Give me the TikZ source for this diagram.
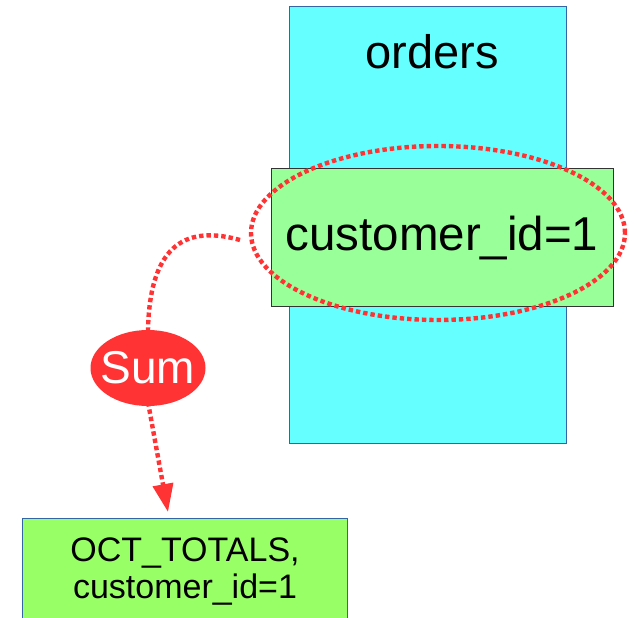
\documentclass[tikz,border=0pt]{standalone}
\usepackage{fontspec}
\setmainfont{Liberation Sans}
\usetikzlibrary{arrows.meta,shapes.geometric}
\definecolor{cyanfill}{HTML}{66FFFF}
\definecolor{greenfill}{HTML}{99FF99}
\definecolor{limefill}{HTML}{99FF66}
\definecolor{bordblue}{HTML}{3465A4}
\definecolor{redx}{HTML}{FF3333}
\tikzset{
  dotline/.style={draw=redx, line width=4.4pt, dash pattern=on 4.4pt off 3pt},
  tablebox/.style={draw=bordblue, line width=0.8pt, fill=cyanfill},
}
\begin{document}
\begin{tikzpicture}[x=1pt,y=-1pt]
\useasboundingbox (0,0) rectangle (638,618);
\fill[white] (0,0) rectangle (638,618);
% orders table
\node[tablebox, minimum width=277pt, minimum height=437pt, anchor=north west, inner sep=0pt] (orders) at (289,6) {};
\node[font=\fontsize{47}{50}\selectfont] (orderslbl) at (432,52) {orders};
% customer_id row
\node[draw=black!80, line width=0.8pt, fill=greenfill, minimum width=342pt, minimum height=138pt, anchor=north west, inner sep=0pt] (row) at (271,168) {};
\node[font=\fontsize{47.5}{50}\selectfont] (rowlbl) at (442,238) {customer\_id=1};
% dotted selection ellipse
\node[ellipse, dotline, minimum width=374pt, minimum height=174pt, inner sep=0pt] (sel) at (438,233) {};
% Sum
\node[ellipse, fill=redx, minimum width=115pt, minimum height=76pt, inner sep=0pt] (sum) at (148,368) {};
\node[text=white, font=\fontsize{46}{50}\selectfont] (sumlbl) at (sum.center) {Sum};
% connector from ellipse to Sum
\coordinate (cstart) at (240,240);
\draw[dotline] (cstart) .. controls (190,226) and (150,240) .. (sum.north);
% arrow to result
\coordinate (tip) at (168,512);
\draw[dotline, -{Triangle[width=20pt,length=28pt]}] ([yshift=4pt]sum.south) -- (tip);
% result table
\node[draw=bordblue, line width=0.8pt, fill=limefill, minimum width=325pt, minimum height=130pt, anchor=north west, inner sep=0pt] (res) at (22,518) {};
\node[font=\fontsize{34}{37}\selectfont, align=center] (reslbl) at (185,572) {OCT\_TOTALS,\\customer\_id=1};
\end{tikzpicture}
\end{document}
